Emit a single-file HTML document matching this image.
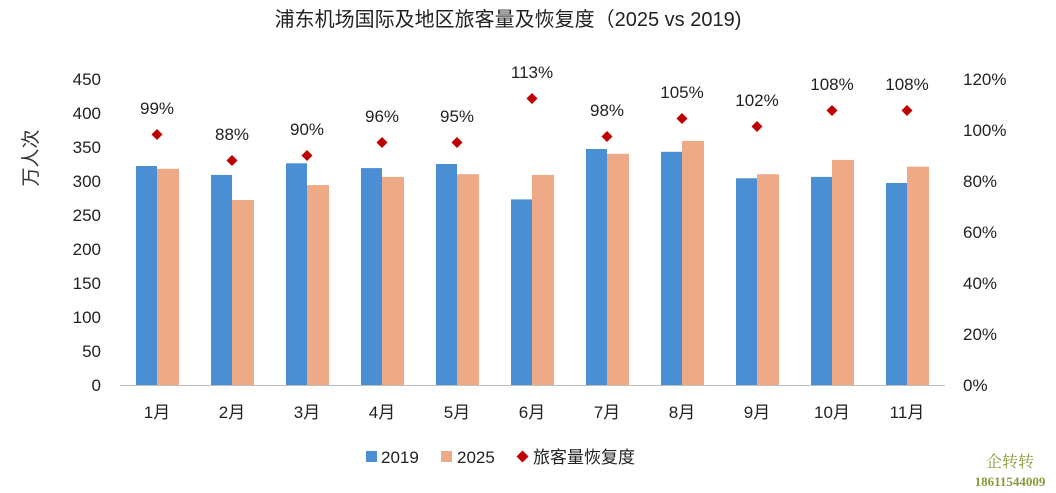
<!DOCTYPE html>
<html><head><meta charset="utf-8"><style>
html,body{margin:0;padding:0;background:#fff;}
svg{display:block;font-family:"Liberation Sans","Noto Sans CJK SC",sans-serif;}
</style></head><body>
<svg width="1056" height="493" viewBox="0 0 1056 493" xmlns="http://www.w3.org/2000/svg">
<rect width="1056" height="493" fill="#fff"/>
<text x="508" y="26" font-size="20" text-anchor="middle" fill="#222">浦东机场国际及地区旅客量及恢复度（2025 vs 2019)</text>
<text transform="translate(37,158) rotate(-90)" font-size="19" text-anchor="middle" fill="#333">万人次</text>
<g font-size="17" fill="#222" text-anchor="end">
<text x="101" y="391">0</text><text x="101" y="357">50</text><text x="101" y="323">100</text>
<text x="101" y="289">150</text><text x="101" y="255">200</text><text x="101" y="221">250</text>
<text x="101" y="187">300</text><text x="101" y="153">350</text><text x="101" y="119">400</text>
<text x="101" y="85">450</text>
</g>
<g font-size="17" fill="#222" text-anchor="start">
<text x="963" y="391">0%</text><text x="963" y="340">20%</text><text x="963" y="289">40%</text>
<text x="963" y="238">60%</text><text x="963" y="187">80%</text><text x="963" y="136">100%</text>
<text x="963" y="85">120%</text>
</g>
<g fill="#4a8fd3">
<rect x="136" y="166.0" width="21" height="219.0"/>
<rect x="211" y="174.9" width="21" height="210.1"/>
<rect x="286" y="163.3" width="21" height="221.7"/>
<rect x="361" y="168.1" width="21" height="216.9"/>
<rect x="436" y="164.0" width="21" height="221.0"/>
<rect x="511" y="199.4" width="21" height="185.6"/>
<rect x="586" y="149.0" width="21" height="236.0"/>
<rect x="661" y="151.8" width="21" height="233.2"/>
<rect x="736" y="178.3" width="21" height="206.7"/>
<rect x="811" y="176.9" width="21" height="208.1"/>
<rect x="886" y="183.0" width="21" height="202.0"/>
</g>
<g fill="#eea987">
<rect x="157" y="168.8" width="22" height="216.2"/>
<rect x="232" y="200.0" width="22" height="185.0"/>
<rect x="307" y="185.1" width="22" height="199.9"/>
<rect x="382" y="176.9" width="22" height="208.1"/>
<rect x="457" y="174.2" width="22" height="210.8"/>
<rect x="532" y="174.9" width="22" height="210.1"/>
<rect x="607" y="153.8" width="22" height="231.2"/>
<rect x="682" y="140.9" width="22" height="244.1"/>
<rect x="757" y="174.2" width="22" height="210.8"/>
<rect x="832" y="159.9" width="22" height="225.1"/>
<rect x="907" y="166.7" width="22" height="218.3"/>
</g>
<line x1="120" y1="385.5" x2="945" y2="385.5" stroke="#bfbfbf" stroke-width="1"/>
<g fill="#c00000">
<polygon points="157,129 162.5,134.5 157,140 151.5,134.5"/>
<polygon points="232,155 237.5,160.5 232,166 226.5,160.5"/>
<polygon points="307,150 312.5,155.5 307,161 301.5,155.5"/>
<polygon points="382,137 387.5,142.5 382,148 376.5,142.5"/>
<polygon points="457,137 462.5,142.5 457,148 451.5,142.5"/>
<polygon points="532,93 537.5,98.5 532,104 526.5,98.5"/>
<polygon points="607,131 612.5,136.5 607,142 601.5,136.5"/>
<polygon points="682,113 687.5,118.5 682,124 676.5,118.5"/>
<polygon points="757,121 762.5,126.5 757,132 751.5,126.5"/>
<polygon points="832,105 837.5,110.5 832,116 826.5,110.5"/>
<polygon points="907,105 912.5,110.5 907,116 901.5,110.5"/>
</g>
<g font-size="17" fill="#222" text-anchor="middle">
<text x="157" y="114">99%</text>
<text x="232" y="140">88%</text>
<text x="307" y="135">90%</text>
<text x="382" y="122">96%</text>
<text x="457" y="122">95%</text>
<text x="532" y="78">113%</text>
<text x="607" y="116">98%</text>
<text x="682" y="98">105%</text>
<text x="757" y="106">102%</text>
<text x="832" y="90">108%</text>
<text x="907" y="90">108%</text>
<text x="157" y="418">1月</text><text x="232" y="418">2月</text><text x="307" y="418">3月</text>
<text x="382" y="418">4月</text><text x="457" y="418">5月</text><text x="532" y="418">6月</text>
<text x="607" y="418">7月</text><text x="682" y="418">8月</text><text x="757" y="418">9月</text>
<text x="832" y="418">10月</text><text x="907" y="418">11月</text>
</g>
<g font-size="17" fill="#222">
<rect x="366" y="451" width="11" height="11" fill="#4a8fd3"/><text x="381" y="463">2019</text>
<rect x="441" y="451" width="11" height="11" fill="#eea987"/><text x="457" y="463">2025</text>
<polygon points="522.5,450.5 528.5,456.5 522.5,462.5 516.5,456.5" fill="#c00000"/><text x="533" y="463">旅客量恢复度</text>
</g>
<text x="1010" y="467" font-size="16" fill="#8a9a3a" text-anchor="middle" font-family="Liberation Serif,Noto Serif CJK SC,serif">企转转</text>
<text x="1010" y="486" font-size="13" fill="#8a9a3a" text-anchor="middle" font-weight="bold" font-family="Liberation Serif,serif">18611544009</text>
</svg>
</body></html>
